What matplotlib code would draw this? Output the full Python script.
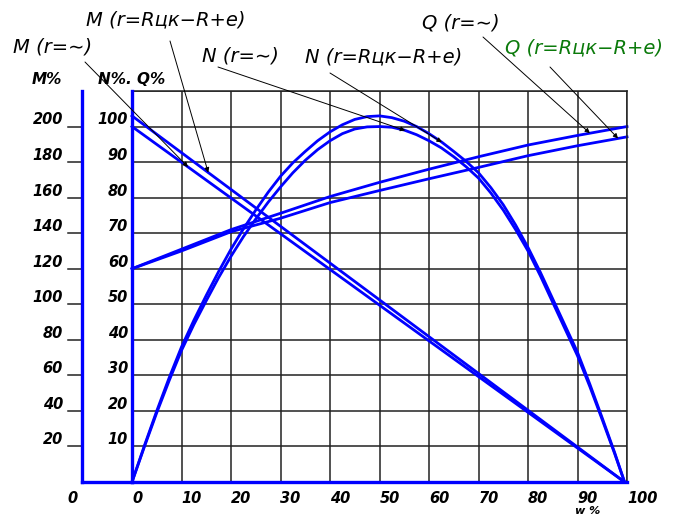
import numpy as np
import matplotlib
matplotlib.use("Agg")
import matplotlib.pyplot as plt

# ---- data ----
m_x = [0, 99.5]
m_inf = [200, 0]        # M% (r=∞)
m_rck = [206, 0]        # M% (r=Rцк−R+e)

n_x = [0, 2.5, 5, 7.5, 10, 12.5, 15, 17.5, 20, 22.5, 25, 27.5, 30, 32.5, 35, 37.5, 40,
       42.5, 45, 47.5, 50, 52.5, 55, 57.5, 60, 62.5, 65, 67.5, 70, 72.5, 75, 77.5, 80,
       82.5, 85, 87.5, 90, 92.5, 95, 97.5, 99.5]
n_rck = [0, 10.2, 20, 29.3, 38, 45.5, 52.5, 59.2, 65.5, 71.2, 76.5, 81.5, 86, 89.8, 93, 96, 98.5,
         100.5, 102, 102.8, 103, 102.5, 101.5, 100, 98, 95.7, 93, 90.2, 87, 82.8, 78, 72.3, 66,
         59, 51.5, 44, 36.5, 27.5, 18, 8.3, 0]
n_inf = [0, 9.9, 19.5, 28.5, 37, 44.3, 51, 57.5, 63.5, 69, 74, 78.7, 83, 87, 90.5, 93.5, 96,
         98, 99.3, 99.9, 100, 99.8, 99, 97.7, 96, 94, 91.5, 88.7, 85.5, 81.3, 76.5, 71, 65,
         58, 50.5, 43, 35.5, 26.8, 17.5, 8, 0]

q_x = [0, 10, 20, 30, 40, 50, 60, 70, 80, 90, 100]
q_inf = [60, 65.5, 71, 75.6, 80.3, 84.3, 88, 91.5, 94.8, 97.5, 100]
q_rck = [60, 65, 70.4, 74.2, 78.6, 82, 85.3, 88.5, 91.8, 94.6, 97.1]

x_ticks = [0, 10, 20, 30, 40, 50, 60, 70, 80, 90, 100]
nq_ticks = [10, 20, 30, 40, 50, 60, 70, 80, 90, 100]
m_ticks = [20, 40, 60, 80, 100, 120, 140, 160, 180, 200]

W, H = 680, 515
BLUE = "#0000ff"
GREEN = "#0b7a0b"

fig = plt.figure(figsize=(W / 100, H / 100), dpi=100)
ax = fig.add_axes([132 / W, 1 - 482 / H, 495 / W, 391 / H])
ax.set_xlim(0, 100)
ax.set_ylim(0, 110)

# grid
ax.set_xticks(x_ticks)
ax.set_yticks(list(range(0, 111, 10)))
ax.tick_params(length=0, labelleft=False, labelbottom=False)
ax.grid(True, color="#222222", lw=1.1)
for s in ("top", "right"):
    ax.spines[s].set_color("#222222")
    ax.spines[s].set_linewidth(1.1)
for s in ("left", "bottom"):
    ax.spines[s].set_color(BLUE)
    ax.spines[s].set_linewidth(2.4)
    ax.spines[s].set_zorder(5)

tick_font = dict(fontsize=10.5, fontweight="bold", style="italic", family="DejaVu Sans")

# x tick labels
xt = ax.get_xaxis_transform()
for v in x_ticks:
    ax.text(v, -0.022, str(v), transform=xt, ha="left", va="top", **tick_font)

# inner axis labels (N%, Q%)
yt = ax.get_yaxis_transform()
for v in nq_ticks:
    ax.text(-0.008, v + 0.6, str(v), transform=yt, ha="right", va="baseline", **tick_font)

# outer M axis
xo = (82 - 132) / 495
xtk = (68 - 132) / 495
ax.plot([xo, xo], [0, 110], transform=yt, color=BLUE, lw=2.4, clip_on=False, zorder=5)
ax.plot([xo, 0], [0, 0], transform=yt, color=BLUE, lw=2.4, clip_on=False, zorder=5)
for v in m_ticks:
    ax.plot([xtk, xo], [v / 2, v / 2], transform=yt, color="#222222", lw=1.1, clip_on=False)
    ax.text((63 - 132) / 495, v / 2 + 0.6, str(v), transform=yt, ha="right", va="baseline", **tick_font)
ax.text((73 - 132) / 4.95, -0.022, "0", transform=xt, ha="center", va="top", **tick_font)

# axis titles
fig.text(47 / W, 1 - 79 / H, "M%", ha="center", va="center", fontsize=11, fontweight="bold", style="italic")
fig.text(132 / W, 1 - 79 / H, "N%. Q%", ha="center", va="center", fontsize=11, fontweight="bold", style="italic")
fig.text(588 / W, 1 - 506 / H, "w %", ha="center", va="top", fontsize=8, fontweight="bold", style="italic")

# curves
lw = 2.0
ax.plot(m_x, np.array(m_inf) / 2, color=BLUE, lw=lw, clip_on=False)
ax.plot(m_x, np.array(m_rck) / 2, color=BLUE, lw=lw, clip_on=False)
ax.plot(n_x, n_inf, color=BLUE, lw=lw, clip_on=False)
ax.plot(n_x, n_rck, color=BLUE, lw=lw, clip_on=False)
ax.plot(q_x, q_inf, color=BLUE, lw=lw, clip_on=False)
ax.plot(q_x, q_rck, color=BLUE, lw=lw, clip_on=False)

# annotations
lab_font = dict(fontsize=14, style="italic", family="DejaVu Sans")
labels = [
    ("M (r=∼)", 13, 47, "k", 85, 62, 11.3, m_x, np.array(m_inf) / 2),
    ("M (r=Rцк−R+e)", 86, 20, "k", 170, 41, 15.4, m_x, np.array(m_rck) / 2),
    ("N (r=∼)", 202, 56, "k", 218, 67, 55.2, n_x, n_inf),
    ("N (r=Rцк−R+e)", 305, 57, "k", 330, 73, 62.6, n_x, n_rck),
    ("Q (r=∼)", 422, 23, "k", 483, 37, 92.5, q_x, q_inf),
    ("Q (r=Rцк−R+e)", 505, 48, GREEN, 550, 67, 98.2, q_x, q_rck),
]
for txt, lx, ly, col, sx, sy, tx, xs, ys in labels:
    fig.text(lx / W, 1 - ly / H, txt, ha="left", va="center", color=col, **lab_font)
    ty = float(np.interp(tx, xs, ys))
    ax.annotate("", xy=(tx, ty), xycoords="data",
                xytext=(sx, H - sy), textcoords="figure pixels",
                arrowprops=dict(arrowstyle="-|>", color="k", lw=0.7,
                                mutation_scale=7, shrinkA=0, shrinkB=0),
                annotation_clip=False, zorder=6)

fig.savefig("out.png", dpi=100)
